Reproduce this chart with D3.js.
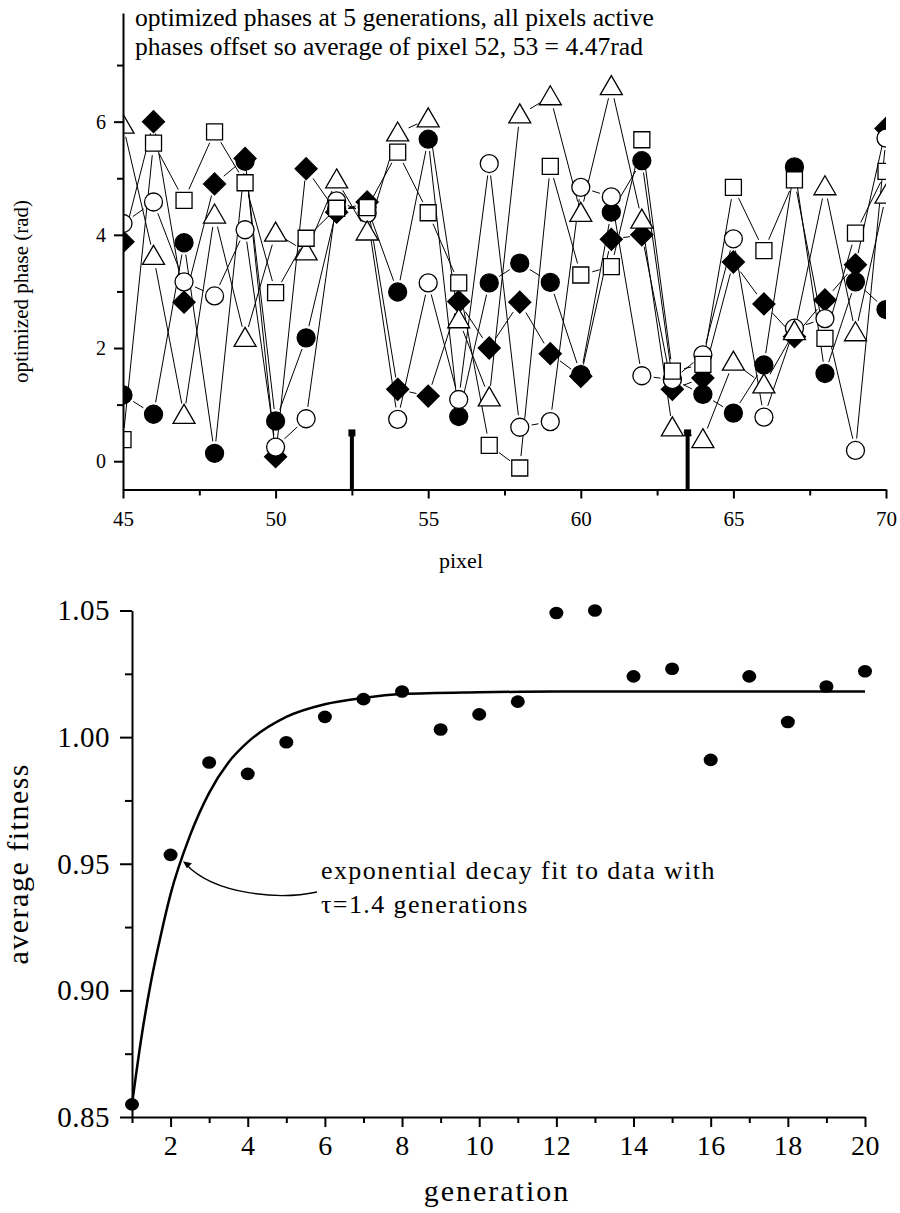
<!DOCTYPE html>
<html>
<head>
<meta charset="utf-8">
<script src="https://cdn.jsdelivr.net/npm/d3@7"></script>
<style>
  body { margin: 0; background: #fff; }
  svg { display: block; font-family: "Liberation Serif", "Times New Roman", serif; }
</style>
</head>
<body>
<div id="chart"></div>
<script>
// ---- top panel: optimized phases ----
const pixels = [45, 46, 47, 48, 49, 50, 51, 52, 53, 54, 55, 56, 57, 58, 59, 60, 61, 62, 63, 64, 65, 66, 67, 68, 69, 70];
const filledCircle = [1.17, 0.83, 3.86, 0.14, 5.30, 0.71, 2.18, 4.45, 4.49, 2.99, 5.69, 0.79, 3.15, 3.50, 3.16, 1.53, 4.40, 5.31, 1.45, 1.18, 0.85, 1.70, 5.20, 1.55, 3.17, 2.68];
const filledDiamond = [3.88, 6.00, 2.81, 4.90, 5.35, 0.08, 5.17, 4.40, 4.58, 1.27, 1.15, 2.82, 2.00, 2.81, 1.90, 1.50, 3.92, 4.00, 1.27, 1.47, 3.52, 2.78, 2.20, 2.85, 3.47, 5.88];
const openCircle = [4.20, 4.58, 3.17, 2.92, 4.09, 0.25, 0.75, 4.60, 4.38, 0.74, 3.15, 1.09, 5.26, 0.60, 0.70, 4.84, 4.67, 1.51, 1.44, 1.88, 3.93, 0.78, 2.35, 2.52, 0.19, 5.71];
const openTriangle = [5.94, 3.62, 0.81, 4.35, 2.17, 4.03, 3.70, 4.97, 4.05, 5.80, 6.05, 2.50, 1.12, 6.12, 6.44, 4.38, 6.62, 4.26, 0.59, 0.38, 1.75, 1.35, 2.29, 4.85, 2.27, 4.70];
const openSquare = [0.38, 5.62, 4.61, 5.82, 4.92, 2.98, 3.94, 4.47, 4.48, 5.46, 4.39, 3.15, 0.28, -0.12, 5.21, 3.29, 3.44, 5.68, 1.59, 1.71, 4.84, 3.72, 4.97, 2.17, 4.03, 5.12];
const dropPixels = [52.5, 63.5];
const dropLevel = 0.5;
const phaseMajor = [0, 2, 4, 6];
const phaseMinor = [1, 3, 5, 7];
const pixelMajor = [45, 50, 55, 60, 65, 70];
const pixelMinor = [47.5, 52.5, 57.5, 62.5, 67.5];
const titleLines = ["optimized phases at 5 generations, all pixels active",
                    "phases offset so average of pixel 52, 53 = 4.47rad"];

// ---- bottom panel: average fitness ----
const generations = [1, 2, 3, 4, 5, 6, 7, 8, 9, 10, 11, 12, 13, 14, 15, 16, 17, 18, 19, 20];
const fitness = [0.855, 0.9535, 0.990, 0.9855, 0.998, 1.008, 1.015, 1.018, 1.003, 1.009, 1.014, 1.049, 1.050, 1.024, 1.027, 0.991, 1.024, 1.006, 1.020, 1.026];
// fit curve
const fitGen = [1, 1.25, 1.5, 1.75, 2, 2.5, 3, 3.5, 4, 5, 6, 7, 8, 10, 12, 20];
const fitVal = [0.855, 0.882, 0.904, 0.922, 0.938, 0.961, 0.978, 0.990, 0.998, 1.008, 1.013, 1.0155, 1.017, 1.0177, 1.018, 1.018];
const genMajor = [2, 4, 6, 8, 10, 12, 14, 16, 18, 20];
const genMinor = [1, 3, 5, 7, 9, 11, 13, 15, 17, 19];
const fitMajor = [0.85, 0.90, 0.95, 1.00, 1.05];
const fitMinor = [0.875, 0.925, 0.975, 1.025];
const noteLines = ["exponential decay fit to data with", "\u03c4=1.4 generations"];

const W = 900, H = 1213;
const svg = d3.select("#chart").append("svg")
  .attr("width", W).attr("height", H);
svg.append("rect").attr("width", W).attr("height", H).attr("fill", "#fff");

// helper: black axis lines
function styleAxis(g, width) {
  g.select(".domain").attr("stroke", "#000").attr("stroke-width", width);
  g.selectAll(".tick line").attr("stroke", "#000").attr("stroke-width", width);
}

// ================= TOP =================
const x1 = d3.scaleLinear().domain([45, 70]).range([123, 886]);
const y1 = d3.scaleLinear().domain([-0.5, 7.92]).range([489.5, 13]);

svg.append("defs").append("clipPath").attr("id", "clipTop")
  .append("rect")
  .attr("x", x1(45)).attr("y", 0)
  .attr("width", x1(70) - x1(45)).attr("height", y1(-0.5));

const topG = svg.append("g");
const plot = topG.append("g").attr("clip-path", "url(#clipTop)");

const seriesList = [
  { vals: filledCircle, shape: "circle", fill: "#000" },
  { vals: filledDiamond, shape: "diamond", fill: "#000" },
  { vals: openCircle, shape: "circle", fill: "#fff" },
  { vals: openTriangle, shape: "triangle", fill: "#fff" },
  { vals: openSquare, shape: "square", fill: "#fff" }
];

const shapePath = {
  circle: "M9,0A9,9 0 1,1 -9,0A9,9 0 1,1 9,0Z",
  diamond: "M0,-11L11,0L0,11L-11,0Z",
  triangle: "M0,-11L11,8L-11,8Z",
  square: "M-8,-8H8V8H-8Z"
};

// connecting lines, stopping short of the markers
const gap = 12;
seriesList.forEach(s => {
  const pts = pixels.map((p, i) => [x1(p), y1(s.vals[i])]);
  const segs = [];
  for (let i = 0; i < pts.length - 1; i++) {
    const [ax, ay] = pts[i], [bx, by] = pts[i + 1];
    const len = Math.hypot(bx - ax, by - ay);
    if (len <= gap * 2) continue;
    const ux = (bx - ax) / len, uy = (by - ay) / len;
    segs.push([ax + ux * gap, ay + uy * gap, bx - ux * gap, by - uy * gap]);
  }
  plot.append("g").selectAll("line").data(segs).enter().append("line")
    .attr("x1", d => d[0]).attr("y1", d => d[1])
    .attr("x2", d => d[2]).attr("y2", d => d[3])
    .attr("stroke", "#000").attr("stroke-width", 1);
});

seriesList.forEach(s => {
  plot.append("g").selectAll("path").data(pixels).enter().append("path")
    .attr("d", shapePath[s.shape])
    .attr("transform", (d, i) => `translate(${x1(d)},${y1(s.vals[i])})`)
    .attr("fill", s.fill)
    .attr("stroke", "#000").attr("stroke-width", 1.3);
});

// drop bars at the pixel boundaries
topG.append("g").selectAll("line").data(dropPixels).enter().append("line")
  .attr("x1", d => x1(d)).attr("x2", d => x1(d))
  .attr("y1", y1(-0.5)).attr("y2", y1(dropLevel))
  .attr("stroke", "#000").attr("stroke-width", 4);
topG.append("g").selectAll("rect").data(dropPixels).enter().append("rect")
  .attr("x", d => x1(d) - 3.5).attr("y", y1(dropLevel) - 3.5)
  .attr("width", 7).attr("height", 7).attr("fill", "#000");

// axes
const yAxTop = topG.append("g").attr("transform", `translate(${x1(45)},0)`)
  .call(d3.axisLeft(y1).tickValues(phaseMajor).tickSize(9).tickSizeOuter(0).tickPadding(8).tickFormat(d3.format("d")));
styleAxis(yAxTop, 2);
yAxTop.selectAll("text").attr("font-size", 20).attr("font-family", "Liberation Serif").attr("fill", "#000");
const yAxTopMin = topG.append("g").attr("transform", `translate(${x1(45)},0)`)
  .call(d3.axisLeft(y1).tickValues(phaseMinor).tickSize(6).tickSizeOuter(0).tickFormat(""));
styleAxis(yAxTopMin, 2);
yAxTopMin.select(".domain").remove();

const xAxTop = topG.append("g").attr("transform", `translate(0,${y1(-0.5)})`)
  .call(d3.axisBottom(x1).tickValues(pixelMajor).tickSize(9).tickSizeOuter(0).tickPadding(13).tickFormat(d3.format("d")));
styleAxis(xAxTop, 2);
xAxTop.selectAll("text").attr("font-size", 21).attr("font-family", "Liberation Serif").attr("fill", "#000");
const xAxTopMin = topG.append("g").attr("transform", `translate(0,${y1(-0.5)})`)
  .call(d3.axisBottom(x1).tickValues(pixelMinor).tickSize(6).tickSizeOuter(0).tickFormat(""));
styleAxis(xAxTopMin, 2);
xAxTopMin.select(".domain").remove();

topG.append("text")
  .attr("x", 461).attr("y", 568)
  .attr("text-anchor", "middle").attr("font-size", 22)
  .text("pixel");

topG.append("text")
  .attr("transform", `translate(28,${y1(3)}) rotate(-90)`)
  .attr("text-anchor", "middle").attr("font-size", 21)
  .text("optimized phase (rad)");

topG.append("g").selectAll("text").data(titleLines).enter().append("text")
  .attr("x", 135).attr("y", (d, i) => 26 + i * 29)
  .attr("font-size", 25.6)
  .text(d => d);

// ================= BOTTOM =================
const x2 = d3.scaleLinear().domain([1, 20]).range([132, 865]);
const y2 = d3.scaleLinear().domain([0.85, 1.05]).range([1117, 610.5]);
const bot = svg.append("g");

const fitLine = d3.line()
  .x((d, i) => x2(fitGen[i]))
  .y(d => y2(d))
  .curve(d3.curveMonotoneX);
bot.append("path")
  .datum(fitVal)
  .attr("d", fitLine)
  .attr("fill", "none").attr("stroke", "#000").attr("stroke-width", 2.5);

bot.append("g").selectAll("ellipse").data(generations).enter().append("ellipse")
  .attr("cx", d => x2(d)).attr("cy", (d, i) => y2(fitness[i]))
  .attr("rx", 7).attr("ry", 6.3).attr("fill", "#000");

const yAxBot = bot.append("g").attr("transform", `translate(${x2(1)},0)`)
  .call(d3.axisLeft(y2).tickValues(fitMajor).tickSize(12).tickSizeOuter(0).tickPadding(10).tickFormat(d3.format(".2f")));
styleAxis(yAxBot, 2);
yAxBot.selectAll("text").attr("font-size", 29).attr("letter-spacing", 0.5)
  .attr("font-family", "Liberation Serif").attr("fill", "#000");
const yAxBotMin = bot.append("g").attr("transform", `translate(${x2(1)},0)`)
  .call(d3.axisLeft(y2).tickValues(fitMinor).tickSize(7).tickSizeOuter(0).tickFormat(""));
styleAxis(yAxBotMin, 2);
yAxBotMin.select(".domain").remove();

const xAxBot = bot.append("g").attr("transform", `translate(0,${y2(0.85)})`)
  .call(d3.axisBottom(x2).tickValues(genMajor).tickSize(10).tickSizeOuter(0).tickPadding(8).tickFormat(d3.format("d")));
styleAxis(xAxBot, 2);
xAxBot.selectAll("text").attr("font-size", 28).attr("letter-spacing", 0.5)
  .attr("font-family", "Liberation Serif").attr("fill", "#000");
const xAxBotMin = bot.append("g").attr("transform", `translate(0,${y2(0.85)})`)
  .call(d3.axisBottom(x2).tickValues(genMinor).tickSize(6).tickSizeOuter(0).tickFormat(""));
styleAxis(xAxBotMin, 2);
xAxBotMin.select(".domain").remove();

bot.append("text")
  .attr("x", 497).attr("y", 1201)
  .attr("text-anchor", "middle").attr("font-size", 30).attr("letter-spacing", 2)
  .text("generation");

bot.append("text")
  .attr("transform", `translate(28,${(y2(0.85) + y2(1.05)) / 2}) rotate(-90)`)
  .attr("text-anchor", "middle").attr("font-size", 30).attr("letter-spacing", 1.5)
  .text("average fitness");

// annotation
bot.append("g").selectAll("text").data(noteLines).enter().append("text")
  .attr("x", 321).attr("y", (d, i) => 879 + i * 34)
  .attr("font-size", 26).attr("letter-spacing", 1.4)
  .text(d => d);

const tipX = x2(2.32), tipY = y2(0.951);
bot.append("path")
  .attr("d", `M${tipX + 3},${tipY + 3} C215,895 280,900 317,892`)
  .attr("fill", "none").attr("stroke", "#000").attr("stroke-width", 1.3);
bot.append("path")
  .attr("d", `M${tipX},${tipY} l9,2 l-5,5 Z`)
  .attr("fill", "#000");
</script>
</body>
</html>
